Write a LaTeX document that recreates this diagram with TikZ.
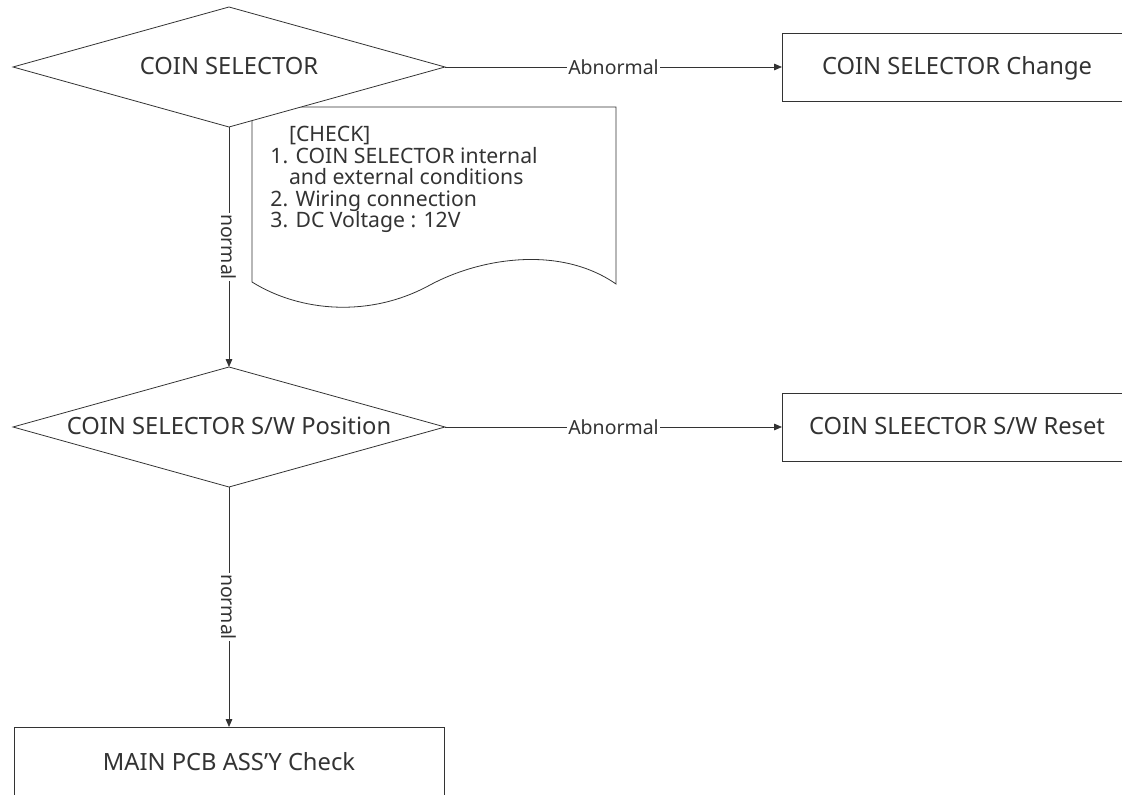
\documentclass[tikz,border=0pt]{standalone}
\usepackage{fontspec}
\setmainfont{Noto Sans}
\usetikzlibrary{shapes.geometric,positioning,arrows.meta}

\tikzset{
  decision/.style={diamond, draw, fill=white, aspect=3.6, inner sep=0pt, outer sep=0pt,
    minimum width=324pt, minimum height=90pt, text height=12.7pt, text depth=1pt,
    font=\fontsize{17.8}{21}\selectfont},
  action/.style={rectangle, draw, fill=white, inner sep=0pt, outer sep=0pt,
    minimum width=262.5pt, minimum height=51pt, text height=12.7pt, text depth=1pt,
    font=\fontsize{17.8}{21}\selectfont},
  flowlabel/.style={fill=white, inner sep=1pt, font=\fontsize{14.6}{17}\selectfont},
}

\begin{document}
\begin{tikzpicture}[x=0.75pt,y=-0.75pt,node distance=180pt and 252.75pt,
    line width=0.6pt, color=black!80, >={Triangle[length=6pt,width=5pt]}]

  \useasboundingbox (0,0) rectangle (1122,795);

  % check note (behind the first decision)
  \draw (252,107) -- (616,107) -- (616,284)
        .. controls (560,245) and (480,258) .. (430,285)
        .. controls (370,318) and (300,312) .. (252,282) -- cycle;
  \node[anchor=north west, align=left, inner sep=0pt,
        font=\fontsize{15.9}{16.1}\selectfont] (checklist) at (270,126)
    {\hspace*{14pt}[CHECK]\\
     1. COIN SELECTOR internal\\
     \hspace*{14pt}and external conditions\\
     2. Wiring connection\\
     3. DC Voltage : 12V};

  \node[decision]                          (selector) at (229,67) {COIN SELECTOR};
  \node[action]   [right=of selector]      (change)               {COIN SELECTOR Change};
  \node[decision] [below=of selector]      (position)             {COIN SELECTOR S/W Position};
  \node[action]   [right=of position]      (reset)                {COIN SLEECTOR S/W Reset};
  \node[action, minimum width=322.5pt, minimum height=54pt]
                  [below=of position]      (mainpcb)              {MAIN PCB ASS'Y Check};

  \path[->] (selector) edge node[flowlabel] {Abnormal} (change)
            (selector) edge node[flowlabel, rotate=-90] {normal} (position)
            (position) edge node[flowlabel] {Abnormal} (reset)
            (position) edge node[flowlabel, rotate=-90] {normal} (mainpcb);
\end{tikzpicture}
\end{document}
